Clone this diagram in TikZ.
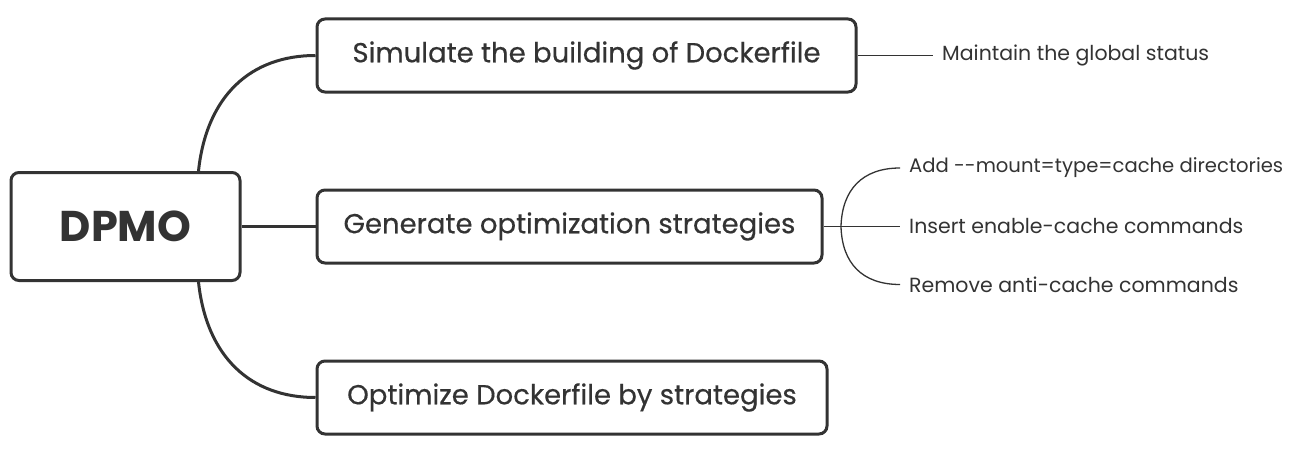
\documentclass[tikz,border=0pt]{standalone}
\usepackage{fontspec}
\setmainfont{Poppins}
\newfontfamily\boxfont{Poppins}[FakeBold=0.4]
\definecolor{ink}{HTML}{333333}
\begin{document}
\begin{tikzpicture}[x=1pt,y=-1pt,
  box/.style={draw=ink, line width=3pt, rounded corners=8pt, fill=white, text=ink, inner sep=0pt, font=\boxfont\fontsize{27.5}{32}\selectfont},
  thick link/.style={draw=ink, line width=3pt},
  thin link/.style={draw=ink, line width=1.3pt},
  leaf/.style={anchor=west, text=ink, inner xsep=9pt, inner ysep=0pt, font=\fontsize{20.5}{24}\selectfont}]
\useasboundingbox (0,0) rectangle (1296,452);
\node[box, minimum width=229pt, minimum height=108pt, font=\fontsize{43}{48}\selectfont\bfseries] (d) at (125.5,226.5) {DPMO};
\node[box, minimum width=539pt, minimum height=73pt] (s1) at (586.5,55.5) {Simulate the building of Dockerfile};
\node[box, minimum width=505pt, minimum height=73pt] (s2) at (569.5,226.5) {Generate optimization strategies};
\node[box, minimum width=510pt, minimum height=73pt] (s3) at (572,397.5) {Optimize Dockerfile by strategies};
% main connectors
\draw[thick link] ([xshift=-43pt]d.north east) .. controls ([xshift=-35pt,yshift=75pt]d.north east) and ([xshift=-65pt]s1.west) .. (s1.west);
\draw[thick link] ([xshift=-43pt]d.south east) .. controls ([xshift=-35pt,yshift=-75pt]d.south east) and ([xshift=-65pt]s3.west) .. (s3.west);
\draw[thick link] (d.east) -- (s2.west);
% leaves
\node[leaf] (m1) at (933,55.5) {Maintain the global status};
\draw[thin link] (s1.east) -- (m1.west);
\coordinate (b) at (841,226.5);
\node[leaf, font=\fontsize{19.6}{24}\selectfont] (l1) at (900,168) {Add -\kern0pt-mount=type=cache directories};
\node[leaf] (l2) at (900,226.5) {Insert enable-cache commands};
\node[leaf] (l3) at (900,284.5) {Remove anti-cache commands};
\draw[thin link] (s2.east) -- (b) -- (l2.west);
\draw[thin link] (b) .. controls (842,190) and (862,168) .. (l1.west);
\draw[thin link] (b) .. controls (842,263) and (862,284.5) .. (l3.west);
\end{tikzpicture}
\end{document}
